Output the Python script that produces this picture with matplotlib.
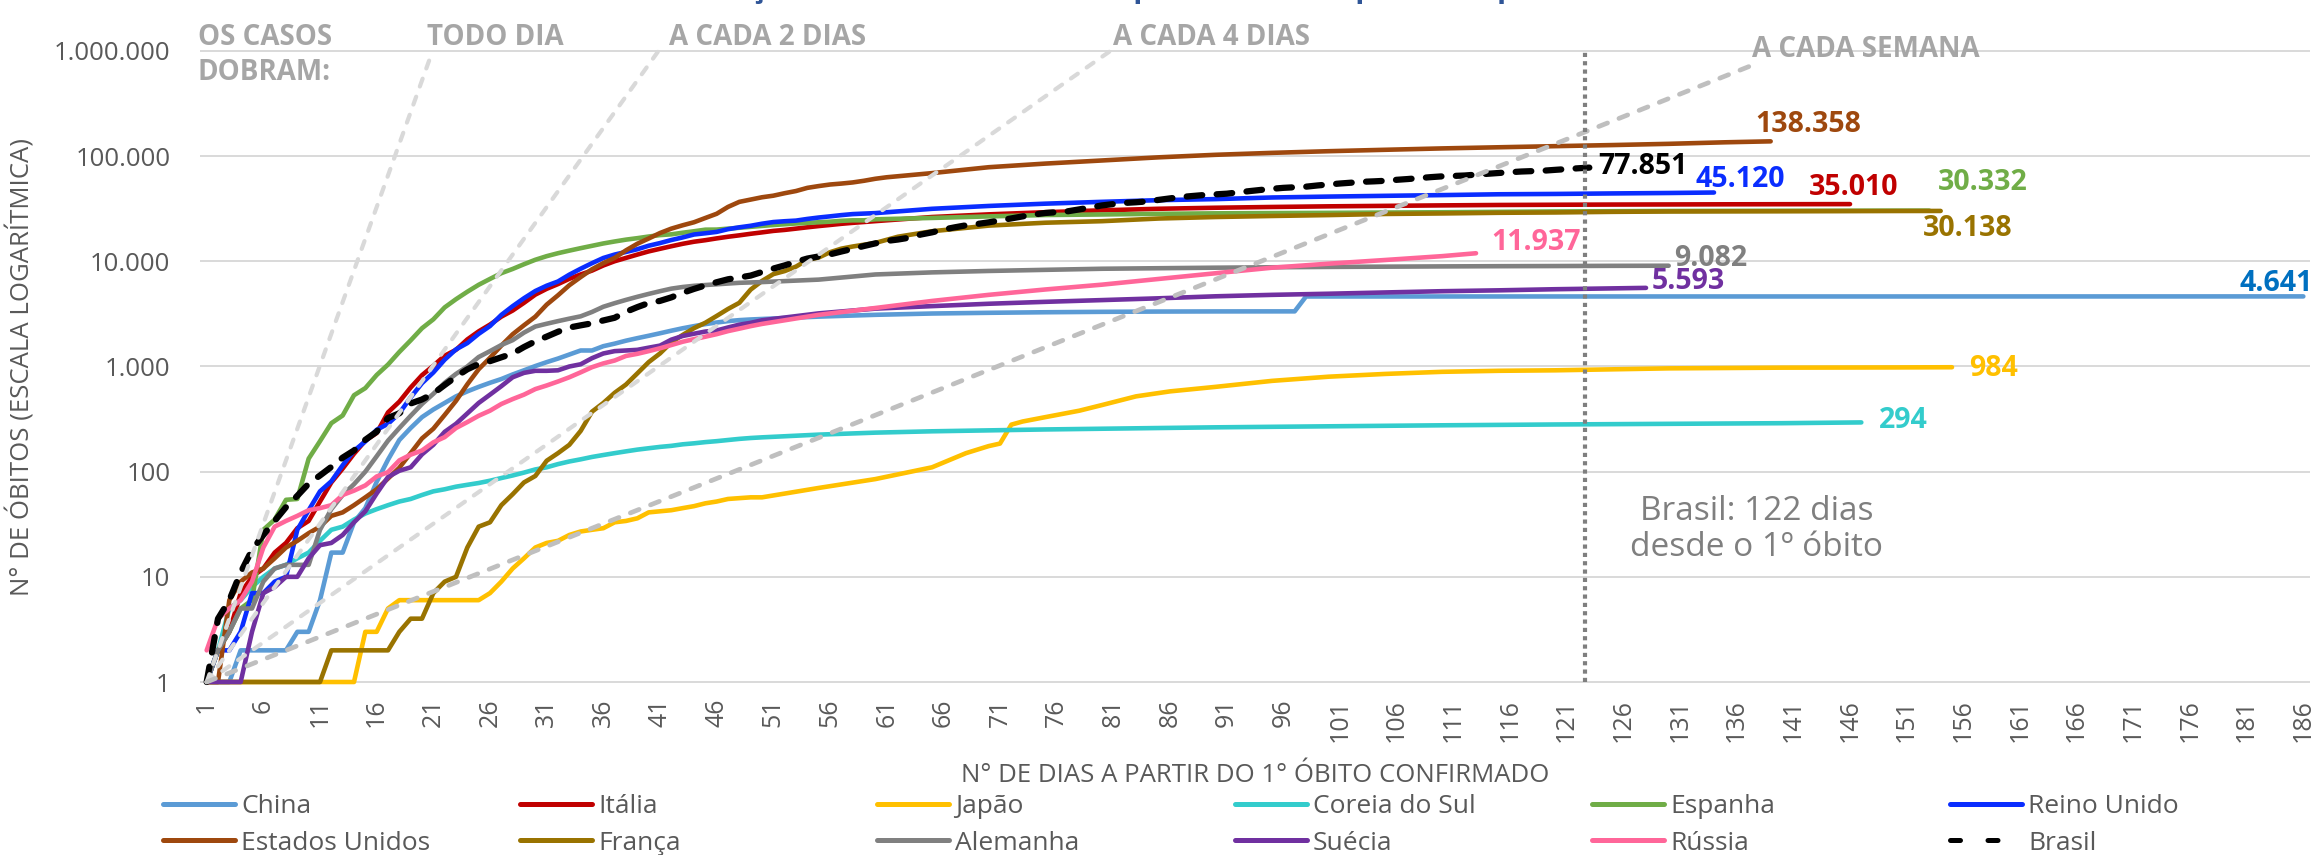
import matplotlib
matplotlib.use("Agg")
import matplotlib.pyplot as plt
from matplotlib.ticker import NullLocator

plt.rcParams['font.family'] = ['Open Sans', 'DejaVu Sans']

W, H, DPI = 2320, 855, 100

# ---------------- data (cumulative deaths by day since 1st death) ----------------
CHINA_EARLY = [1, 1, 1, 2, 2, 2, 2, 2, 3, 3, 6, 17, 17, 33, 45, 80, 130, 200, 260, 330,
               390, 450, 520, 580, 640, 700, 760, 840, 920, 1010, 1100, 1190, 1300, 1420, 1420,
               1560, 1650, 1760, 1860, 1960, 2070, 2190, 2310, 2420, 2530, 2620, 2700, 2760, 2800, 2830]
CHINA_LATE_D = [55, 60, 65, 70, 75, 80, 85, 90, 97, 98, 110, 130, 150, 170, 186]
CHINA_LATE_V = [2980, 3100, 3190, 3240, 3280, 3310, 3330, 3340, 3344, 4632, 4634, 4634, 4634, 4637, 4641]

ITALIA_EARLY = [1, 2, 3, 7, 10, 12, 17, 21, 29, 34, 52, 79, 107, 148, 197, 233, 366, 463, 631, 827,
                1016, 1266, 1441, 1809, 2158, 2503, 2978, 3405, 4032, 4825, 5476, 6077, 6820, 7503, 8165,
                9134, 10023, 10779, 11591, 12428, 13155, 13915, 14681, 15362, 15887, 16523, 17127, 17669,
                18279, 18849, 19468, 19899, 20465, 21067, 21645, 22170, 22745, 23227, 23660, 24114]
ITALIA_LATE_D = [65, 70, 75, 80, 85, 90, 95, 100, 105, 110, 115, 120, 125, 130, 135, 140, 146]
ITALIA_LATE_V = [26384, 27967, 29315, 30560, 31610, 32330, 32877, 33340, 33689, 34043, 34345, 34514,
                 34657, 34744, 34854, 34926, 35010]

JAPAO_EARLY = [1, 1, 1, 1, 1, 1, 1, 1, 1, 1, 1, 1, 1, 1, 3, 3, 5, 6, 6, 6, 6, 6, 6, 6, 6,
               7, 9, 12, 15, 19, 21, 22, 25, 27, 28, 29, 33, 34, 36, 41, 42, 43, 45, 47, 50, 52, 55, 56, 57, 57]
JAPAO_LATE_D = [55, 60, 65, 68, 70, 71, 72, 73, 75, 78, 80, 83, 86, 90, 95, 100, 105, 110, 115, 120, 130, 140, 150, 155]
JAPAO_LATE_V = [70, 85, 110, 150, 175, 185, 280, 300, 330, 380, 430, 520, 580, 640, 730, 800, 850, 890,
                910, 920, 960, 975, 980, 984]

COREIA_EARLY = [1, 2, 5, 6, 8, 10, 12, 13, 15, 17, 22, 28, 30, 35, 40, 44, 48, 52, 55, 60,
                65, 68, 72, 75, 78, 82, 87, 92, 98, 105, 110, 118, 125, 131, 138, 144, 150, 156, 162, 167,
                172, 176, 182, 186, 191, 195, 200, 205, 209, 212]
COREIA_LATE_D = [55, 60, 65, 70, 75, 80, 85, 90, 95, 100, 110, 120, 130, 140, 147]
COREIA_LATE_V = [225, 235, 242, 247, 252, 256, 260, 264, 267, 270, 276, 281, 285, 289, 294]

ESPANHA_EARLY = [1, 2, 3, 5, 6, 28, 35, 54, 55, 133, 195, 289, 342, 533, 623, 830, 1043, 1375, 1772, 2311,
                 2808, 3647, 4365, 5138, 5982, 6803, 7716, 8464, 9387, 10348, 11198, 11947, 12641, 13341,
                 14045, 14792, 15447, 16081, 16606, 17209, 17756, 18056, 18708, 19315, 20002, 20043, 20453,
                 20852, 21282, 21717, 22157, 22524, 22902, 23190, 23521, 23822, 24275, 24543, 24543, 25100]
ESPANHA_LATE_D = [65, 70, 75, 80, 85, 90, 100, 110, 120, 130, 140, 153]
ESPANHA_LATE_V = [25857, 26744, 27563, 27900, 28300, 28600, 28900, 29300, 29800, 30100, 30250, 30332]

REINO_UNIDO_EARLY = [1, 2, 2, 3, 7, 7, 9, 10, 28, 43, 65, 81, 115, 158, 194, 250, 285, 359, 508, 694,
                     877, 1161, 1455, 1669, 2043, 2425, 3095, 3747, 4461, 5221, 5865, 6433, 7471, 8505, 9608,
                     10760, 11599, 12285, 13029, 14073, 14915, 15944, 16879, 17994, 18492, 19051, 20223,
                     21060, 21787, 22792, 23635, 24055, 24393, 25302, 26097, 26771, 27510, 28131, 28446, 28734]
REINO_UNIDO_LATE_D = [65, 70, 75, 80, 85, 90, 95, 100, 105, 110, 115, 120, 125, 130, 134]
REINO_UNIDO_LATE_V = [31587, 33614, 35341, 36793, 38161, 39045, 40465, 41279, 41969, 42632, 43414,
                      43730, 44220, 44650, 45120]

EUA_EARLY = [1, 1, 6, 9, 11, 12, 15, 19, 22, 26, 30, 38, 41, 48, 57, 68, 86, 109, 150, 207,
             256, 346, 471, 677, 942, 1209, 1581, 2026, 2467, 2978, 3873, 4757, 5926, 7087, 8407, 9619,
             10783, 12722, 14695, 16478, 18586, 20463, 22020, 23529, 25832, 28325, 32916, 36773, 38664,
             40661, 42094, 44444, 46622, 49954, 51949, 53755, 54881, 56259, 58355, 60967, 62996]
EUA_LATE_D = [65, 70, 75, 80, 85, 90, 95, 100, 105, 110, 115, 120, 125, 130, 135, 139]
EUA_LATE_V = [69000, 78500, 85000, 91000, 97500, 103000, 107500, 111500, 115000, 118500, 121500,
              124500, 127500, 131000, 135500, 138358]

FRANCA_EARLY = [1, 1, 1, 1, 1, 1, 1, 1, 1, 1, 1, 2, 2, 2, 2, 2, 2, 3, 4, 4,
                7, 9, 10, 19, 30, 33, 48, 61, 79, 91, 127, 150, 180, 244, 372, 450, 562, 674, 860, 1100,
                1331, 1696, 1995, 2314, 2606, 3024, 3523, 4032, 5387, 6507, 7560, 8078, 8911, 10328,
                10869, 12210, 13197, 13832, 14393, 14967]
FRANCA_LATE_D = [62, 65, 70, 75, 80, 85, 90, 95, 100, 105, 110, 115, 120, 125, 130, 135, 140, 145, 150, 154]
FRANCA_LATE_V = [17148, 19323, 21856, 23293, 24087, 25531, 26380, 26991, 27529, 28215, 28530, 28940,
                 29155, 29547, 29778, 29860, 29920, 30000, 30100, 30138]

ALEMANHA_EARLY = [1, 2, 3, 5, 5, 9, 12, 13, 13, 13, 28, 44, 60, 76, 100, 140, 197, 260, 340, 440,
                  550, 700, 850, 1000, 1230, 1400, 1600, 1780, 2100, 2400, 2550, 2700, 2850, 3000, 3300,
                  3700, 4000, 4300, 4600, 4900, 5200, 5500, 5700, 5850, 5950, 6050, 6150, 6250, 6300, 6350]
ALEMANHA_LATE_D = [55, 60, 65, 70, 75, 80, 85, 90, 95, 100, 105, 110, 115, 120, 125, 130]
ALEMANHA_LATE_V = [6700, 7500, 7850, 8100, 8300, 8500, 8600, 8700, 8780, 8850, 8900, 8950, 8990,
                   9020, 9060, 9082]

SUECIA_EARLY = [1, 1, 1, 1, 3, 7, 8, 10, 10, 15, 20, 21, 25, 33, 42, 62, 89, 102, 110, 146,
                180, 239, 285, 358, 450, 540, 650, 790, 870, 910, 910, 920, 1000, 1050, 1200, 1330, 1400,
                1420, 1440, 1510, 1580, 1800, 1950, 2050, 2150, 2200, 2350, 2500, 2600, 2750]
SUECIA_LATE_D = [55, 60, 65, 70, 75, 80, 85, 90, 95, 100, 105, 110, 115, 120, 125, 128]
SUECIA_LATE_V = [3200, 3550, 3750, 3950, 4120, 4280, 4450, 4650, 4800, 4920, 5060, 5200, 5300, 5430, 5530, 5593]

RUSSIA_EARLY = [2, 4, 5, 6, 9, 19, 30, 34, 38, 43, 45, 48, 60, 66, 74, 90, 99, 128, 145, 159,
                190, 213, 260, 296, 340, 380, 440, 490, 540, 610, 660, 720, 790, 880, 985, 1070, 1140,
                1260, 1320, 1400, 1490, 1600, 1720, 1820, 1920, 2030, 2170, 2290, 2420, 2540]
RUSSIA_LATE_D = [55, 60, 65, 70, 75, 80, 85, 90, 95, 100, 105, 110, 113]
RUSSIA_LATE_V = [3100, 3600, 4200, 4800, 5400, 6000, 6800, 7700, 8700, 9500, 10300, 11200, 11937]

BRASIL = [1, 4, 6, 11, 18, 25, 34, 46, 59, 77, 92, 111, 136, 159, 201,
          240, 324, 359, 445, 486, 553, 667, 800, 941, 1056, 1124, 1223, 1328, 1532, 1736, 1924, 2141,
          2347, 2462, 2575, 2741, 2906, 3313, 3670, 4016, 4205, 4543, 5017, 5466, 5901,
          6329, 6750, 7025, 7321, 7921, 8536, 9146, 9897, 10627, 11123, 11653, 12400, 13149, 13993,
          14817, 15633, 16118, 16792, 17971, 18859, 20047, 21048, 22013, 22666, 23473, 24512, 25598,
          26754, 27878, 28834, 29314,
          29937, 31199, 32548, 34021, 35026, 35930, 36455, 37134, 38406, 39680, 40919, 41828, 42720,
          43332, 43959, 45241, 46510, 47748, 48954, 49976, 50617, 51271, 52645, 53830, 54971, 55961,
          57070, 57622, 58314, 59594,
          60632, 61884, 63174, 64265, 64867, 65487, 66741, 67964, 69184, 70398, 71469, 72100, 72833,
          74133, 75366, 76688, 77851]

# doubling guide lines: start (1, 1) and end point (day, deaths)
GUIDE_NAMES = ["TODO DIA", "A CADA 2 DIAS", "A CADA 4 DIAS", "A CADA SEMANA"]
GUIDE_END_DAY = [20.93, 40.86, 80.73, 138]
GUIDE_END_VAL = [1000000, 1000000, 1000000, 779000]

YTICKS = [1, 10, 100, 1000, 10000, 100000, 1000000]
YTICK_LABELS = ["1", "10", "100", "1.000", "10.000", "100.000", "1.000.000"]
XTICKS = list(range(1, 187, 5))
BRASIL_DAYS_MARK = 122.6

# ---------------- figure ----------------
fig = plt.figure(figsize=(W / DPI, H / DPI), dpi=DPI)
AX_L, AX_R, AX_T, AX_B = 201, 2309, 51, 682
ax = fig.add_axes([AX_L / W, (H - AX_B) / H, (AX_R - AX_L) / W, (AX_B - AX_T) / H])
ax.set_yscale('log')
ax.set_xlim(0.5, 186.5)
ax.set_ylim(1, 1e6)
for s in ax.spines.values():
    s.set_visible(False)

ax.set_yticks(YTICKS)
ax.set_yticklabels(YTICK_LABELS)
ax.yaxis.set_minor_locator(NullLocator())
ax.set_xticks(XTICKS)
ax.set_xticklabels([str(t) for t in XTICKS], rotation=90)
ax.tick_params(axis='both', length=0, labelcolor='#595959')
ax.tick_params(axis='y', labelsize=18.5, pad=22)
ax.tick_params(axis='x', labelsize=18, pad=12)
ax.grid(axis='y', which='major', color='#D9D9D9', lw=1.4)
ax.set_axisbelow(True)
for gl in ax.get_ygridlines():
    gl.set_clip_on(False)

ax.set_ylabel("N° DE ÓBITOS (ESCALA LOGARÍTMICA)", fontsize=18.5, color='#595959')
ax.yaxis.set_label_coords((35 - AX_L) / (AX_R - AX_L), 0.5)
ax.set_xlabel("N° DE DIAS A PARTIR DO 1° ÓBITO CONFIRMADO", fontsize=18.5, color='#595959')
ax.xaxis.set_label_coords(0.5, -(775 - AX_B) / (AX_B - AX_T))
ax.xaxis.label.set_va('center')


def series(early, late_d=(), late_v=()):
    return list(range(1, len(early) + 1)) + list(late_d), list(early) + list(late_v)


SERIES = [
    ("China", series(CHINA_EARLY, CHINA_LATE_D, CHINA_LATE_V), '#5B9BD5', '#0070C0', 'right', (10, 5)),
    ("Itália", series(ITALIA_EARLY, ITALIA_LATE_D, ITALIA_LATE_V), '#C00000', '#C00000', 'left', (-41, 9)),
    ("Japão", series(JAPAO_EARLY, JAPAO_LATE_D, JAPAO_LATE_V), '#FFC000', '#FFC000', 'left', (17, -9)),
    ("Coreia do Sul", series(COREIA_EARLY, COREIA_LATE_D, COREIA_LATE_V), '#33CCCC', '#33CCCC', 'left', (18, -6)),
    ("Espanha", series(ESPANHA_EARLY, ESPANHA_LATE_D, ESPANHA_LATE_V), '#70AD47', '#70AD47', 'left', (9, 21)),
    ("Reino Unido", series(REINO_UNIDO_EARLY, REINO_UNIDO_LATE_D, REINO_UNIDO_LATE_V), '#0A2DFF', '#0A2DFF', 'left', (-19, 6)),
    ("Estados Unidos", series(EUA_EARLY, EUA_LATE_D, EUA_LATE_V), '#9E480E', '#9E480E', 'left', (-15, 9)),
    ("França", series(FRANCA_EARLY, FRANCA_LATE_D, FRANCA_LATE_V), '#997300', '#997300', 'left', (-18, -25)),
    ("Alemanha", series(ALEMANHA_EARLY, ALEMANHA_LATE_D, ALEMANHA_LATE_V), '#808080', '#808080', 'left', (5, 0)),
    ("Suécia", series(SUECIA_EARLY, SUECIA_LATE_D, SUECIA_LATE_V), '#7030A0', '#7030A0', 'left', (6, -1.5)),
    ("Rússia", series(RUSSIA_EARLY, RUSSIA_LATE_D, RUSSIA_LATE_V), '#FF6699', '#FF6699', 'left', (15, 3)),
    ("Brasil", series(BRASIL), '#000000', '#000000', 'left', (9, -6.6)),
]

handles = {}
for i, (name, (d, v), col, lcol, ha, off) in enumerate(SERIES):
    if name == "Brasil":
        ln, = ax.plot(d, v, color=col, lw=4.5, linestyle=(0, (2.5, 2.3)), dash_capstyle='round',
                      zorder=4, clip_on=False, label=name)
    else:
        ln, = ax.plot(d, v, color=col, lw=3.3, solid_capstyle='round', solid_joinstyle='round',
                      zorder=2 + i * 0.01, clip_on=False, label=name)
    handles[name] = ln
    txt = f"{v[-1]:,}".replace(",", ".")
    ax.annotate(txt, xy=(d[-1], v[-1]), xytext=off, textcoords='offset pixels',
                ha=ha, va='baseline', fontsize=20.5, fontweight='bold', color=lcol, zorder=6)

# doubling guides
for k, (ed, ev) in enumerate(zip(GUIDE_END_DAY, GUIDE_END_VAL)):
    weekly = (k == 3)
    ax.plot([1, ed], [1, ev], color='#BFBFBF' if weekly else '#D9D9D9', lw=3.4 if weekly else 3.0,
            linestyle=(0, (2.0, 2.6)), dash_capstyle='round', zorder=5, clip_on=False)

# Brasil marker line
ax.axvline(BRASIL_DAYS_MARK, color='#7F7F7F', lw=3.0, linestyle=(0, (1, 1)), zorder=5)


def fx(px):
    return px / W


def fy(py):
    return 1 - py / H


# guide labels
gcol = '#A6A6A6'
fig.text(fx(198), fy(45), "OS CASOS", fontsize=20, fontweight='bold', color=gcol, va='baseline')
fig.text(fx(198), fy(80), "DOBRAM:", fontsize=20, fontweight='bold', color=gcol, va='baseline')
for name, px, py in zip(GUIDE_NAMES, [427, 669, 1113, 1752], [45, 45, 45, 57]):
    fig.text(fx(px), fy(py), name, fontsize=20, fontweight='bold', color=gcol, va='baseline')

# annotation
fig.text(fx(1757), fy(520), "Brasil: 122 dias", fontsize=24, color='#7F7F7F', ha='center', va='baseline')
fig.text(fx(1757), fy(556), "desde o 1º óbito", fontsize=24, color='#7F7F7F', ha='center', va='baseline')

# title (cut off at top, as in the reference)
fig.text(fx(1192), fy(-3), "Evolução do número de óbitos por Covid-19 a partir do primeiro óbito",
         fontsize=22, fontweight='bold', color='#2F5597', ha='center', va='baseline')

# legend: six columns, two rows
LEG_COLS = [("China", "Estados Unidos"), ("Itália", "França"), ("Japão", "Alemanha"),
            ("Coreia do Sul", "Suécia"), ("Espanha", "Rússia"), ("Reino Unido", "Brasil")]
LEG_X = [163, 520, 877, 1235, 1592, 1950]
for (a, b), lx in zip(LEG_COLS, LEG_X):
    leg = fig.legend(handles=[handles[a], handles[b]], labels=[a, b], loc='center left',
                     bbox_to_anchor=(fx(lx), fy(825)), frameon=False, fontsize=19,
                     handlelength=2.73, handletextpad=0.23, borderpad=0, borderaxespad=0,
                     labelspacing=0.42, labelcolor='#595959')
    for lh, nm in zip(leg.legend_handles, [a, b]):
        lh.set_linewidth(3.6)
        if nm == "Brasil":
            lh.set_linestyle((0, (2.0, 5.5)))
            lh.set_dash_capstyle('round')

fig.savefig("out.png", dpi=DPI)
